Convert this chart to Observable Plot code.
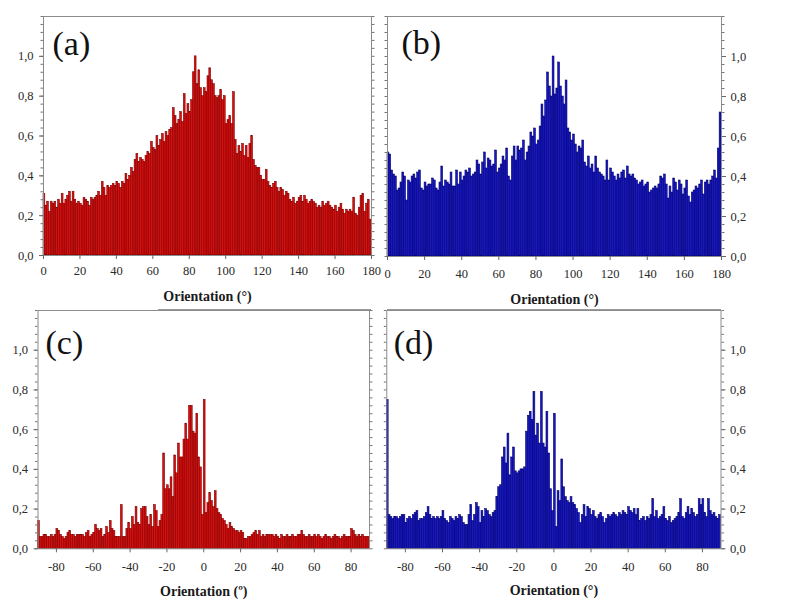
<!DOCTYPE html>
<html>
<head>
<meta charset="utf-8">
<script src="https://cdn.jsdelivr.net/npm/d3@7"></script>
<script src="https://cdn.jsdelivr.net/npm/@observablehq/plot@0.6"></script>
<style>
  body { margin: 0; background: #fff; }
  #root { position: relative; width: 786px; height: 605px; background: #fff; overflow: hidden; }
  .panel { position: absolute; }
  .panel svg, .panel svg text, .panel svg g { font-family: "Liberation Serif", "DejaVu Serif", serif !important; }
  .hline { position: absolute; height: 1px; background: #9a9a9a; }
</style>
</head>
<body>
<div id="root"></div>
<script>
// ---- data (1° bins) ----
const panelLabels = ["(a)", "(b)", "(c)", "(d)"];
const axisTitles = ["Orientation (°)", "Orientation (°)", "Orientation (º)", "Orientation (°)"];
const startA = 0, startB = 0, startC = -90, startD = -90;
const ticks0to180 = [0, 20, 40, 60, 80, 100, 120, 140, 160, 180];
const ticksSym = [-80, -60, -40, -20, 0, 20, 40, 60, 80];
const yMajor = [0, 0.2, 0.4, 0.6, 0.8, 1.0];

const aVals = [
0.31,0.25,0.27,0.22,0.27,0.26,0.27,0.24,0.28,0.26,
0.31,0.26,0.28,0.30,0.32,0.27,0.32,0.28,0.26,0.27,
0.26,0.25,0.29,0.28,0.27,0.25,0.29,0.28,0.29,0.30,
0.32,0.30,0.37,0.34,0.30,0.35,0.34,0.35,0.36,0.35,
0.37,0.36,0.34,0.37,0.36,0.41,0.38,0.40,0.44,0.42,
0.48,0.51,0.47,0.49,0.48,0.47,0.50,0.52,0.51,0.57,
0.54,0.53,0.60,0.55,0.58,0.61,0.57,0.62,0.60,0.63,
0.64,0.74,0.70,0.66,0.68,0.72,0.67,0.81,0.71,0.76,
0.72,0.78,0.92,1.00,0.86,0.93,0.84,0.80,0.84,0.82,
0.90,0.94,0.88,0.86,0.80,0.79,0.80,0.83,0.78,0.80,
0.66,0.68,0.70,0.66,0.82,0.58,0.51,0.55,0.52,0.56,
0.50,0.55,0.49,0.56,0.60,0.48,0.45,0.44,0.44,0.40,
0.38,0.38,0.43,0.37,0.35,0.34,0.36,0.37,0.34,0.32,
0.34,0.33,0.30,0.32,0.31,0.28,0.27,0.29,0.26,0.27,
0.29,0.30,0.27,0.30,0.28,0.26,0.27,0.28,0.27,0.26,
0.24,0.25,0.24,0.27,0.25,0.26,0.27,0.25,0.24,0.23,
0.25,0.22,0.24,0.26,0.23,0.21,0.23,0.22,0.23,0.22,
0.29,0.21,0.20,0.24,0.30,0.31,0.22,0.26,0.28,0.18
];

const bVals = [
0.52,0.51,0.43,0.41,0.40,0.33,0.34,0.37,0.42,0.40,
0.28,0.38,0.37,0.40,0.41,0.39,0.42,0.43,0.34,0.33,
0.37,0.35,0.36,0.36,0.39,0.38,0.34,0.33,0.37,0.45,
0.35,0.38,0.37,0.36,0.42,0.35,0.35,0.43,0.36,0.42,
0.38,0.40,0.43,0.42,0.44,0.40,0.41,0.42,0.48,0.46,
0.41,0.47,0.52,0.44,0.49,0.48,0.45,0.46,0.53,0.42,
0.44,0.46,0.50,0.48,0.54,0.40,0.38,0.50,0.55,0.48,
0.55,0.53,0.54,0.58,0.48,0.52,0.55,0.62,0.60,0.64,
0.56,0.58,0.65,0.76,0.70,0.78,0.92,0.85,0.80,1.00,
0.81,0.84,0.97,0.85,0.80,0.76,0.88,0.64,0.62,0.58,
0.61,0.56,0.52,0.55,0.54,0.58,0.47,0.45,0.50,0.44,
0.46,0.42,0.50,0.44,0.42,0.41,0.40,0.38,0.48,0.38,
0.44,0.42,0.40,0.38,0.41,0.39,0.42,0.43,0.39,0.45,
0.41,0.40,0.41,0.39,0.38,0.36,0.37,0.38,0.35,0.36,
0.37,0.32,0.33,0.34,0.35,0.34,0.36,0.40,0.39,0.41,
0.36,0.29,0.35,0.32,0.39,0.37,0.33,0.38,0.36,0.31,
0.34,0.38,0.30,0.27,0.32,0.33,0.35,0.34,0.36,0.38,
0.31,0.37,0.38,0.36,0.38,0.40,0.43,0.39,0.54,0.72
];

const cVals = [
0.14,0.06,0.06,0.07,0.07,0.06,0.06,0.07,0.06,0.07,
0.10,0.09,0.07,0.06,0.05,0.06,0.08,0.09,0.07,0.07,
0.06,0.07,0.07,0.07,0.07,0.06,0.08,0.09,0.06,0.07,
0.08,0.12,0.10,0.09,0.10,0.06,0.07,0.11,0.08,0.14,
0.10,0.09,0.06,0.06,0.06,0.22,0.06,0.06,0.10,0.13,
0.10,0.16,0.12,0.21,0.13,0.12,0.20,0.21,0.21,0.16,
0.12,0.17,0.11,0.22,0.19,0.11,0.14,0.17,0.48,0.30,
0.32,0.30,0.36,0.26,0.47,0.38,0.53,0.46,0.46,0.55,
0.63,0.55,0.72,0.72,0.59,0.58,0.68,0.46,0.41,0.17,
0.75,0.18,0.23,0.28,0.24,0.21,0.29,0.20,0.18,0.17,
0.15,0.14,0.12,0.10,0.13,0.11,0.10,0.09,0.09,0.08,
0.09,0.08,0.05,0.05,0.06,0.06,0.07,0.08,0.09,0.07,
0.09,0.06,0.07,0.06,0.07,0.07,0.07,0.07,0.06,0.07,
0.06,0.05,0.07,0.06,0.06,0.07,0.06,0.06,0.07,0.06,
0.06,0.07,0.07,0.09,0.07,0.06,0.06,0.07,0.06,0.06,
0.07,0.06,0.07,0.06,0.05,0.06,0.07,0.06,0.06,0.05,
0.06,0.07,0.06,0.06,0.05,0.06,0.07,0.06,0.06,0.06,
0.10,0.09,0.07,0.06,0.07,0.06,0.07,0.06,0.06,0.06
];

const dVals = [
0.75,0.17,0.16,0.15,0.16,0.16,0.15,0.16,0.17,0.17,
0.13,0.15,0.16,0.15,0.17,0.18,0.19,0.14,0.15,0.15,
0.16,0.18,0.21,0.17,0.15,0.16,0.15,0.16,0.15,0.16,
0.19,0.15,0.14,0.13,0.16,0.15,0.14,0.16,0.15,0.17,
0.16,0.13,0.12,0.12,0.17,0.22,0.14,0.17,0.23,0.21,
0.13,0.19,0.16,0.20,0.19,0.17,0.16,0.18,0.19,0.26,
0.31,0.32,0.46,0.51,0.43,0.58,0.37,0.46,0.51,0.39,
0.38,0.39,0.40,0.40,0.41,0.59,0.67,0.69,0.65,0.79,
0.57,0.63,0.53,0.79,0.53,0.51,0.69,0.48,0.30,0.19,
0.68,0.11,0.29,0.24,0.45,0.31,0.26,0.24,0.23,0.26,
0.23,0.22,0.20,0.18,0.13,0.17,0.22,0.16,0.21,0.20,
0.17,0.19,0.16,0.15,0.17,0.18,0.16,0.13,0.15,0.17,
0.16,0.17,0.18,0.17,0.16,0.18,0.17,0.19,0.18,0.17,
0.21,0.19,0.18,0.20,0.17,0.20,0.14,0.15,0.16,0.14,
0.16,0.15,0.17,0.25,0.16,0.19,0.15,0.16,0.17,0.21,
0.15,0.14,0.16,0.13,0.14,0.15,0.16,0.18,0.25,0.16,
0.15,0.18,0.21,0.17,0.20,0.18,0.16,0.17,0.25,0.22,
0.25,0.18,0.16,0.25,0.19,0.17,0.18,0.16,0.15,0.17
];

// ---- drawing ----
const root = document.getElementById("root");
const fmtY = d => d.toFixed(1).replace(".", ",");
const fmtX = d => (d < 0 ? "-" + Math.abs(d) : String(d));
const yMinor = d3.range(0, 1.2001, 0.04).map(v => +v.toFixed(2));

const RED = {fill: "#e00c0c", stroke: "#720000"};
const BLUE = {fill: "#1616cc", stroke: "#00005e"};

function panel(cfg) {
  const rows = cfg.vals.map((v, i) => ({x1: cfg.start + i, x2: cfg.start + i + 1, v}));
  const side = cfg.ySide;
  const other = side === "left" ? "right" : "left";
  const svg = Plot.plot({
    width: cfg.w, height: cfg.h,
    marginLeft: cfg.ml, marginRight: cfg.mr, marginTop: cfg.mt, marginBottom: cfg.mb,
    style: {fontSize: "12px", color: "#2a2a2a", background: "transparent", overflow: "visible"},
    x: {domain: [cfg.start, cfg.start + 180]},
    y: {domain: [0, 1.2]},
    marks: [
      Plot.rectY(rows, {x1: "x1", x2: "x2", y: "v", fill: cfg.color.fill, stroke: cfg.color.stroke, strokeWidth: 0.55, inset: 0}),
      Plot.frame({stroke: "#8c8c8c", strokeWidth: 1}),
      Plot.axisY(yMinor, {anchor: side, tickSize: 2.5, tickFormat: () => "", stroke: "#777", label: null}),
      Plot.axisY(yMinor, {anchor: other, tickSize: 2.5, tickFormat: () => "", stroke: "#777", label: null}),
      Plot.axisY(yMajor, {anchor: side, tickSize: 4, tickPadding: cfg.ypad, tickFormat: fmtY, stroke: "#666", fill: "#2a2a2a", fontSize: 12.5, label: null}),
      Plot.axisX(cfg.xticks, {anchor: "bottom", tickSize: 4, tickPadding: cfg.xpad, tickFormat: fmtX, stroke: "#666", fill: "#2a2a2a", fontSize: 12.5, label: null}),
      Plot.text([cfg.title], {frameAnchor: "bottom", dy: cfg.titleDy, lineAnchor: "middle", fontWeight: "bold", fontSize: 14, fill: "#1a1a1a"}),
      Plot.text([cfg.label], {frameAnchor: "top-left", dx: cfg.ldx, dy: cfg.ldy, lineAnchor: "bottom", textAnchor: "start", fontSize: 34, fill: "#111"})
    ]
  });
  const div = document.createElement("div");
  div.className = "panel";
  div.style.left = cfg.left + "px";
  div.style.top = cfg.top + "px";
  div.appendChild(svg);
  root.appendChild(div);
}

panel({vals: aVals, start: startA, color: RED, xticks: ticks0to180, ySide: "left",
  left: 0, top: 0, w: 393, h: 310, ml: 43, mr: 22, mt: 16, mb: 55, ypad: 6, xpad: 7,
  title: axisTitles[0], titleDy: 41, label: panelLabels[0], ldx: 9, ldy: 38});
panel({vals: bVals, start: startB, color: BLUE, xticks: ticks0to180, ySide: "right",
  left: 380, top: 0, w: 406, h: 310, ml: 7, mr: 65, mt: 16, mb: 54, ypad: 5, xpad: 9,
  title: axisTitles[1], titleDy: 43, label: panelLabels[1], ldx: 14, ldy: 37});
panel({vals: cVals, start: startC, color: RED, xticks: ticksSym, ySide: "left",
  left: 0, top: 300, w: 393, h: 305, ml: 37.5, mr: 24, mt: 10, mb: 56.7, ypad: 6, xpad: 9,
  title: axisTitles[2], titleDy: 43, label: panelLabels[2], ldx: 7.5, ldy: 43});
panel({vals: dVals, start: startD, color: BLUE, xticks: ticksSym, ySide: "right",
  left: 380, top: 300, w: 406, h: 305, ml: 6.3, mr: 65.5, mt: 10, mb: 56.7, ypad: 5, xpad: 9,
  title: axisTitles[3], titleDy: 42, label: panelLabels[3], ldx: 7, ldy: 43});

// faint separator lines beneath the top row titles (as in the source figure)
[[158, 309, 213], [387, 309, 334]].forEach(([x, y, w]) => {
  const l = document.createElement("div");
  l.className = "hline";
  l.style.left = x + "px"; l.style.top = y + "px"; l.style.width = w + "px";
  root.appendChild(l);
});
</script>
</body>
</html>
